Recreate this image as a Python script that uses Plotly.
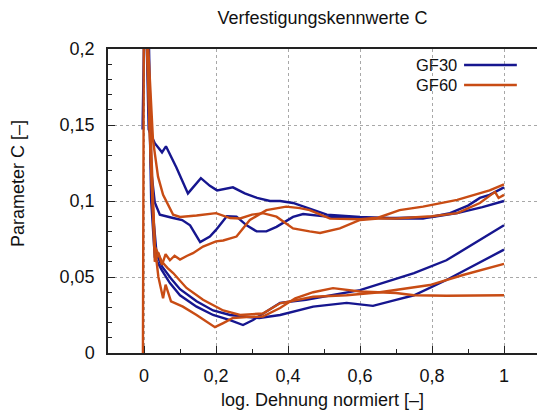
import plotly.graph_objects as go

# ---- data ----
gf30_1_x = [-0.004, 0.003, 0.013, 0.03, 0.05, 0.061, 0.09, 0.122, 0.158, 0.183, 0.203, 0.247, 0.28, 0.314, 0.35, 0.378, 0.414, 0.47, 0.508, 0.6, 0.7, 0.775, 0.85, 0.9, 0.933, 0.96, 1.0]
gf30_1_y = [0.147, 0.25, 0.147, 0.138, 0.132, 0.136, 0.122, 0.105, 0.115, 0.110, 0.107, 0.109, 0.105, 0.102, 0.100, 0.100, 0.0987, 0.094, 0.091, 0.0895, 0.0885, 0.0885, 0.092, 0.097, 0.102, 0.104, 0.109]

gf30_2_x = [0.005, 0.02, 0.03, 0.044, 0.078, 0.106, 0.128, 0.156, 0.183, 0.2, 0.23, 0.257, 0.285, 0.313, 0.34, 0.368, 0.414, 0.442, 0.508, 0.6, 0.7, 0.8, 0.87, 0.94, 1.0]
gf30_2_y = [0.25, 0.12, 0.099, 0.091, 0.089, 0.0875, 0.084, 0.073, 0.0766, 0.081, 0.090, 0.0897, 0.084, 0.080, 0.080, 0.083, 0.0895, 0.0914, 0.0897, 0.0888, 0.0888, 0.0895, 0.092, 0.096, 0.100]

gf30_3_x = [0.008, 0.02, 0.03, 0.049, 0.072, 0.1, 0.146, 0.192, 0.239, 0.275, 0.303, 0.34, 0.378, 0.45, 0.6, 0.75, 0.84, 1.0]
gf30_3_y = [0.25, 0.10, 0.063, 0.0546, 0.046, 0.038, 0.0305, 0.025, 0.0217, 0.0184, 0.0217, 0.027, 0.033, 0.035, 0.0414, 0.0526, 0.061, 0.084]

gf30_4_x = [0.01, 0.022, 0.035, 0.05, 0.075, 0.1, 0.146, 0.192, 0.239, 0.275, 0.32, 0.378, 0.47, 0.563, 0.636, 0.7, 0.75, 0.84, 1.0]
gf30_4_y = [0.25, 0.10, 0.065, 0.057, 0.049, 0.042, 0.034, 0.028, 0.025, 0.024, 0.023, 0.025, 0.0305, 0.033, 0.031, 0.035, 0.038, 0.048, 0.068]

gf60_1_x = [-0.003, 0.0, 0.012, 0.025, 0.039, 0.053, 0.081, 0.1, 0.146, 0.2, 0.239, 0.267, 0.3, 0.33, 0.368, 0.414, 0.46, 0.489, 0.544, 0.6, 0.65, 0.7, 0.8, 0.87, 0.933, 0.975, 0.985, 1.0]
gf60_1_y = [0.0, 0.25, 0.20, 0.14, 0.116, 0.104, 0.091, 0.0895, 0.0905, 0.092, 0.0888, 0.0885, 0.091, 0.092, 0.0897, 0.082, 0.080, 0.079, 0.082, 0.0875, 0.0885, 0.0885, 0.090, 0.092, 0.0987, 0.106, 0.102, 0.104]

gf60_2_x = [0.005, 0.015, 0.025, 0.03, 0.04, 0.05, 0.06, 0.072, 0.085, 0.1, 0.12, 0.136, 0.164, 0.2, 0.22, 0.257, 0.294, 0.34, 0.395, 0.433, 0.46, 0.517, 0.6, 0.65, 0.71, 0.775, 0.87, 0.96, 1.0]
gf60_2_y = [0.25, 0.15, 0.09, 0.060, 0.066, 0.058, 0.065, 0.061, 0.064, 0.0615, 0.064, 0.0657, 0.070, 0.0734, 0.074, 0.0766, 0.0875, 0.094, 0.0963, 0.0953, 0.094, 0.0884, 0.088, 0.089, 0.094, 0.0963, 0.1007, 0.107, 0.111]

gf60_3_x = [0.008, 0.02, 0.03, 0.04, 0.053, 0.06, 0.075, 0.108, 0.146, 0.174, 0.197, 0.22, 0.247, 0.285, 0.33, 0.378, 0.42, 0.47, 0.525, 0.6, 0.7, 0.75, 0.84, 1.0]
gf60_3_y = [0.20, 0.12, 0.07, 0.05, 0.036, 0.045, 0.034, 0.0305, 0.025, 0.0206, 0.017, 0.0197, 0.023, 0.0236, 0.024, 0.0296, 0.036, 0.040, 0.0427, 0.0405, 0.0395, 0.038, 0.0377, 0.038]

gf60_4_x = [0.01, 0.03, 0.05, 0.065, 0.081, 0.118, 0.164, 0.22, 0.267, 0.33, 0.378, 0.47, 0.563, 0.655, 0.794, 0.886, 1.0]
gf60_4_y = [0.20, 0.07, 0.060, 0.056, 0.0526, 0.0428, 0.035, 0.028, 0.025, 0.026, 0.0327, 0.037, 0.038, 0.040, 0.0447, 0.0513, 0.0586]

series_names = ["GF30", "GF60"]
x_tickvals = [0, 0.2, 0.4, 0.6, 0.8, 1.0]
x_ticktext = ["0", "0,2", "0,4", "0,6", "0,8", "1"]
y_tickvals = [0, 0.05, 0.1, 0.15, 0.2]
y_ticktext = ["0", "0,05", "0,1", "0,15", "0,2"]

BLUE = "#16168f"
ORANGE = "#c84c14"
FONT = "Liberation Sans"
FS = 18

fig = go.Figure()
for xs, ys in [(gf30_1_x, gf30_1_y), (gf30_2_x, gf30_2_y), (gf30_3_x, gf30_3_y), (gf30_4_x, gf30_4_y)]:
    fig.add_trace(go.Scatter(x=xs, y=ys, mode="lines", line=dict(color=BLUE, width=2.4), showlegend=False))
for xs, ys in [(gf60_1_x, gf60_1_y), (gf60_2_x, gf60_2_y), (gf60_3_x, gf60_3_y), (gf60_4_x, gf60_4_y)]:
    fig.add_trace(go.Scatter(x=xs, y=ys, mode="lines", line=dict(color=ORANGE, width=2.4), showlegend=False))

# manual legend (text left of line sample)
for name, col, yp in [(series_names[0], BLUE, (353 - 65) / 304), (series_names[1], ORANGE, (353 - 85) / 304)]:
    fig.add_annotation(x=0.815, y=yp, xref="paper", yref="paper", text=name, showarrow=False,
                       xanchor="right", yanchor="middle", borderpad=0,
                       font=dict(family=FONT, size=16.5, color="#111"))
    fig.add_shape(type="line", xref="paper", yref="paper", x0=0.830, x1=0.953, y0=yp, y1=yp,
                  line=dict(color=col, width=2.4))

# y-axis title placed as annotation (slightly above plot centre, as in reference)
fig.add_annotation(x=-0.21, y=0.559, xref="paper", yref="paper", text="Parameter C [–]", showarrow=False,
                   textangle=-90, xanchor="center", yanchor="middle", font=dict(family=FONT, size=FS, color="#111"))

fig.update_layout(
    width=537, height=414,
    margin=dict(l=108, r=0, t=49, b=61),
    paper_bgcolor="white", plot_bgcolor="white",
    font=dict(family=FONT, size=FS, color="#111"),
    title=dict(text="Verfestigungskennwerte C", x=0.5, xref="paper", y=1 - 18 / 414, yanchor="middle",
               font=dict(family=FONT, size=FS, color="#111")),
)
fig.update_xaxes(
    range=[-0.1, -0.1 + 429 / 360], tickmode="array", tickvals=x_tickvals, ticktext=x_ticktext,
    ticks="inside", ticklen=7, tickcolor="#222", ticklabelstandoff=6,
    showline=True, linecolor="#222", linewidth=1.5, mirror=True,
    showgrid=True, gridcolor="#a8a8a8", griddash="dot", gridwidth=1, zeroline=False,
    minor=dict(tickmode="linear", tick0=0, dtick=0.1, ticks="inside", ticklen=4, tickcolor="#222", showgrid=False),
    title=dict(text="log. Dehnung normiert [–]", standoff=8, font=dict(family=FONT, size=FS)),
)
fig.update_yaxes(
    range=[0, 0.2], tickmode="array", tickvals=y_tickvals, ticktext=y_ticktext,
    ticks="inside", ticklen=7, tickcolor="#222", ticklabelstandoff=8,
    showline=True, linecolor="#222", linewidth=1.5, mirror=False,
    showgrid=True, gridcolor="#a8a8a8", griddash="dot", gridwidth=1, zeroline=False,
    minor=dict(tickmode="linear", tick0=0, dtick=0.01, ticks="inside", ticklen=4, tickcolor="#222", showgrid=False),
)

fig.write_html("out.html")
